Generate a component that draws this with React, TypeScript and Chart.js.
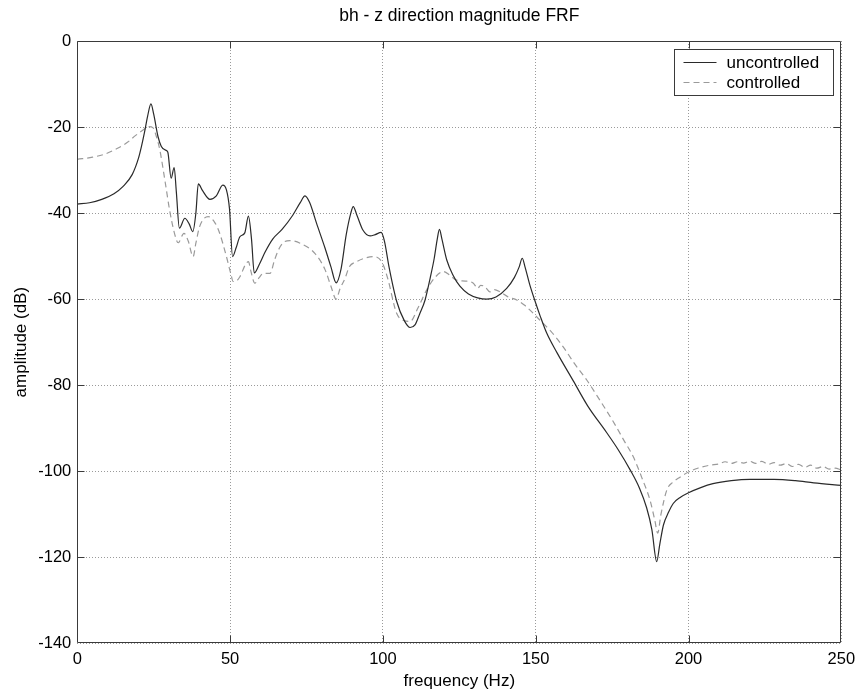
import React, { useEffect, useRef } from "react";
import { Chart, registerables } from "chart.js";

Chart.register(...registerables);

const titleText = "bh - z direction magnitude FRF";
const xLabel = "frequency (Hz)";
const yLabel = "amplitude (dB)";
const seriesNames = ["uncontrolled", "controlled"];
const xTicks = [0, 50, 100, 150, 200, 250];
const yTicks = [-140, -120, -100, -80, -60, -40, -20, 0];

const freqUncontrolled = [
  0, 4, 8, 12, 15, 18, 20, 21, 22, 23, 24.1, 25, 26.4, 27.5, 28.7, 29.6, 30.7, 31.7,
  32.4, 33.4, 35.2, 36.6, 37.8, 38.8, 39.6, 41, 43.4, 45.5, 47.6, 48.8, 49.8, 50.8,
  52, 53.2, 54.8, 56, 57, 57.9, 59.5, 61.5, 64, 67, 70.5, 73, 74.5, 76, 78.3, 81,
  83, 84.7, 86.3, 88, 89.5, 90.3, 91.5, 93.5, 95.8, 97.5, 99.4, 100.5, 102, 104.5,
  107, 108.9, 110.5, 112, 113.8, 115.5, 116.8, 117.8, 118.5, 119.3, 120.9, 123,
  125.2, 128, 131, 134, 137, 140.5, 143, 144.6, 145.6, 146.5, 148, 149.8, 151.5,
  153.6, 157, 162.3, 167, 173.2, 177, 181, 184, 186.3, 188, 189.6, 190.6, 191.8,
  193.5, 195, 197.5, 200, 204, 208, 214, 220, 228, 235, 241, 250,
];
const ampUncontrolled = [
  -37.9, -37.6, -36.8, -35.5, -33.8, -31, -27.3, -24.5, -21.2, -17.5, -14.6, -17,
  -22.2, -24.5, -25.3, -25.8, -31.9, -29.4, -35, -43.5, -41.2, -42.5, -44.3, -40,
  -33.2, -34.8, -36.8, -36, -33.5, -34.6, -39, -50.1, -48, -45.5, -44.6, -40.7, -46,
  -53.9, -52, -49, -46, -43.8, -40.5, -37.5, -36, -37.5, -42.4, -48, -52.5, -56.2,
  -53, -45, -40, -38.5, -40.5, -44, -45.3, -45, -44.5, -46.5, -52.5, -60.5, -65,
  -66.6, -66, -63.5, -60.2, -55, -50.5, -46, -43.8, -46, -50.9, -54.5, -57, -58.8,
  -59.7, -60, -59.5, -57.5, -55, -52.5, -50.5, -52.5, -56.5, -60.5, -64, -67.9,
  -72.5, -79, -84.8, -91, -95, -99.8, -104, -108.5, -113.5, -121, -117, -112.5,
  -109.5, -107.5, -106, -105, -103.8, -102.9, -102.2, -101.9, -101.9, -102.2,
  -102.7, -103.3,
];

const freqControlled = [
  0, 5, 9, 13, 16.5, 19, 21.5, 23.5, 24.8, 26, 27, 28.8, 30.2, 31.8, 33, 34.9, 36.3,
  37.9, 38.8, 40, 42.8, 45, 46.5, 48.8, 50.2, 51, 52, 53.2, 55, 56, 56.8, 58.1, 59.5,
  60.9, 63.1, 64.5, 65.8, 67.5, 69.6, 72.9, 77.8, 81.1, 83, 84.7, 86, 87.6, 89, 91.4,
  94, 96.9, 99.6, 101.5, 104.5, 107, 108.9, 111.5, 114.3, 117, 119.8, 122, 124.1,
  127, 129.6, 131, 132, 133.4, 135, 136.5, 138.3, 141, 143.8, 146.5, 149.2, 151.4,
  155, 159, 162.7, 166.7, 171, 175.4, 179, 181.9, 185, 187.4, 189, 189.9, 191,
  192.9, 195, 197.2, 200, 203, 207, 210, 212, 214, 216, 218, 220, 222, 224, 226,
  228, 230, 232, 234, 236, 238, 240, 242, 244, 246, 248, 250,
];
const ampControlled = [
  -27.5, -27, -26.3, -25, -23.5, -22, -20.7, -19.9, -20.2, -22.5, -25.3, -33, -39.3,
  -44.7, -46.9, -44.7, -46.5, -50.1, -47, -43.2, -40.8, -42.2, -44.5, -50.1, -54,
  -55.9, -55.8, -54.8, -52, -51.3, -53.5, -56.3, -55, -54, -54, -51, -48.6, -46.8,
  -46.4, -47, -49.4, -53.2, -57, -60, -57.5, -55.2, -52.5, -51.3, -50.5, -50.1,
  -51.3, -55, -63.3, -65, -65.2, -62, -57.9, -55, -53.6, -54.5, -55.6, -55.8, -56.3,
  -57.5, -56.8, -57.1, -58.3, -57.8, -58.3, -59.5, -60.2, -61.5, -63.3, -64.9,
  -67.5, -71.1, -75, -78.8, -83.5, -88.5, -93, -96.6, -102, -106.7, -111.5, -114.4,
  -110, -104.4, -102.5, -101.4, -100.2, -99.3, -98.6, -98.3, -97.8, -98.2, -97.8,
  -98.1, -97.7, -98.2, -97.7, -98.4, -98, -98.6, -98.2, -98.9, -98.4, -99.1, -98.6,
  -99.3, -98.9, -99.5, -99.3, -99.7,
];

const FONT = "'Liberation Sans', Arial, Helvetica, sans-serif";
const FRAME = "#3a3a3a";
const COLOR_UNC = "#2a2a2a";
const COLOR_CTL = "#9a9a9a";
const GRID = "#9a9a9a";

const framePlugin = {
  id: "matlabFrame",
  afterDatasetsDraw(chart: any) {
    const { ctx, chartArea: a, scales } = chart;
    const L = Math.round(a.left) + 0.5;
    const R = Math.round(a.right) - 0.5;
    const T = Math.round(a.top) + 0.5;
    const B = Math.round(a.bottom) - 0.5;
    const tl = 7;
    ctx.save();
    ctx.strokeStyle = FRAME;
    ctx.lineWidth = 1;
    ctx.setLineDash([]);
    ctx.beginPath();
    ctx.rect(L, T, R - L, B - T);
    for (const v of xTicks) {
      const px = Math.round(scales.x.getPixelForValue(v)) + 0.5;
      if (px <= L + 1 || px >= R - 1) continue;
      ctx.moveTo(px, B);
      ctx.lineTo(px, B - tl);
      ctx.moveTo(px, T);
      ctx.lineTo(px, T + tl);
    }
    for (const v of yTicks) {
      const py = Math.round(scales.y.getPixelForValue(v)) + 0.5;
      if (py <= T + 1 || py >= B - 1) continue;
      ctx.moveTo(L, py);
      ctx.lineTo(L + tl, py);
      ctx.moveTo(R, py);
      ctx.lineTo(R - tl, py);
    }
    ctx.stroke();

    // legend box
    const bw = 159;
    const bh = 46;
    const bx = Math.round(a.right - 8 - bw) + 0.5;
    const by = Math.round(a.top + 8) + 0.5;
    ctx.fillStyle = "#ffffff";
    ctx.fillRect(bx, by, bw, bh);
    ctx.strokeStyle = FRAME;
    ctx.strokeRect(bx, by, bw, bh);
    const dsets = chart.data.datasets;
    const rows = [by + 12.5, by + 32.5];
    dsets.forEach((ds: any, i: number) => {
      ctx.beginPath();
      ctx.strokeStyle = ds.borderColor;
      ctx.lineWidth = 1;
      ctx.setLineDash(ds.borderDash || []);
      ctx.moveTo(bx + 9, Math.round(rows[i]) + 0.5);
      ctx.lineTo(bx + 42, Math.round(rows[i]) + 0.5);
      ctx.stroke();
      ctx.setLineDash([]);
      ctx.fillStyle = "#000";
      ctx.font = `17px ${FONT}`;
      ctx.textAlign = "left";
      ctx.textBaseline = "middle";
      ctx.fillText(ds.label, bx + 52, rows[i] + 1);
    });
    ctx.restore();
  },
};

export default function App() {
  const ref = useRef<HTMLCanvasElement | null>(null);

  useEffect(() => {
    if (!ref.current) return;
    const chart = new Chart(ref.current, {
      type: "line",
      data: {
        datasets: [
          {
            label: seriesNames[0],
            data: freqUncontrolled.map((x, i) => ({ x, y: ampUncontrolled[i] })),
            borderColor: COLOR_UNC,
            borderWidth: 1.2,
            pointRadius: 0,
            cubicInterpolationMode: "monotone",
            fill: false,
          },
          {
            label: seriesNames[1],
            data: freqControlled.map((x, i) => ({ x, y: ampControlled[i] })),
            borderColor: COLOR_CTL,
            borderWidth: 1.2,
            borderDash: [6, 4],
            pointRadius: 0,
            cubicInterpolationMode: "monotone",
            fill: false,
          },
        ],
      },
      options: {
        animation: false,
        responsive: false,
        devicePixelRatio: 1,
        events: [],
        layout: { padding: { left: 0, right: 16.7, top: 0, bottom: 0 } },
        plugins: {
          legend: { display: false },
          tooltip: { enabled: false },
          title: {
            display: true,
            text: titleText,
            fullSize: false,
            color: "#000",
            font: { family: FONT, size: 17.5, weight: "normal" },
            padding: { top: 6, bottom: 14 },
          },
        },
        scales: {
          x: {
            type: "linear",
            min: 0,
            max: 250,
            afterBuildTicks: (s: any) => {
              s.ticks = xTicks.map((v) => ({ value: v }));
            },
            afterFit: (s: any) => {
              s.height = 52.7;
              s.paddingLeft = 0;
              s.paddingRight = 0;
            },
            ticks: {
              color: "#000",
              font: { family: FONT, size: 16.5 },
              padding: 6,
              maxRotation: 0,
              autoSkip: false,
            },
            grid: { color: GRID, lineWidth: 1, drawTicks: false },
            border: { display: false, dash: [1, 2] },
            title: {
              display: true,
              text: xLabel,
              color: "#000",
              font: { family: FONT, size: 17 },
              padding: { top: 0, bottom: 4 },
            },
          },
          y: {
            type: "linear",
            min: -140,
            max: 0,
            afterBuildTicks: (s: any) => {
              s.ticks = yTicks.map((v) => ({ value: v }));
            },
            afterFit: (s: any) => {
              s.width = 77.3;
              s.paddingTop = 0;
              s.paddingBottom = 0;
            },
            ticks: {
              color: "#000",
              font: { family: FONT, size: 16.5 },
              padding: 6,
              autoSkip: false,
            },
            grid: { color: GRID, lineWidth: 1, drawTicks: false },
            border: { display: false, dash: [1, 2] },
            title: {
              display: true,
              text: yLabel,
              color: "#000",
              font: { family: FONT, size: 17 },
              padding: { top: 11, bottom: 0 },
            },
          },
        },
      },
      plugins: [framePlugin],
    } as any);
    return () => chart.destroy();
  }, []);

  return (
    <div style={{ position: "absolute", left: 0, top: 0, width: 858, height: 696, background: "#fff" }}>
      <canvas ref={ref} width={858} height={696} style={{ display: "block" }} />
    </div>
  );
}
